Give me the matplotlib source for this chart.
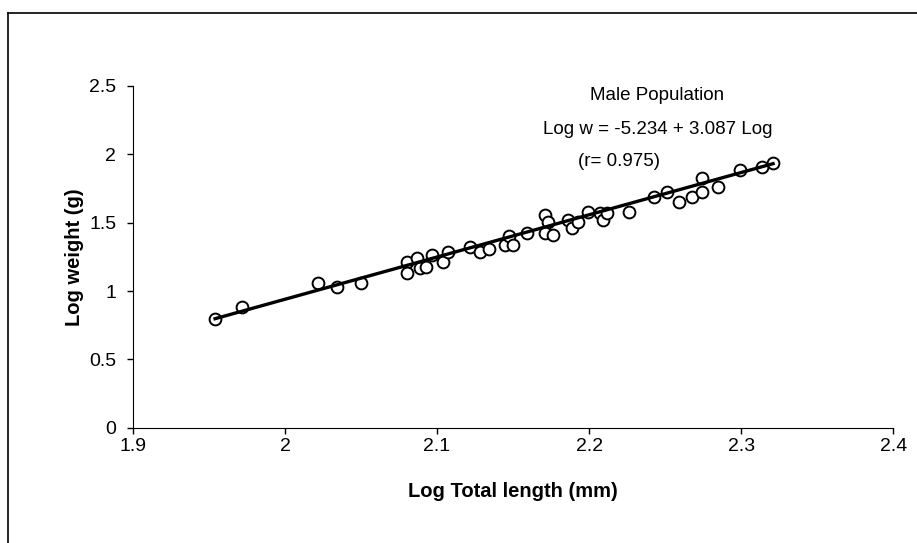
import matplotlib
matplotlib.use("Agg")
import matplotlib.pyplot as plt
from matplotlib.lines import Line2D

plt.rcParams['font.family'] = ['Liberation Sans', 'DejaVu Sans']

# log total length (mm) / log weight (g)
log_length = [1.954, 1.972, 2.022, 2.034, 2.050, 2.080, 2.080, 2.087, 2.089, 2.093,
              2.097, 2.104, 2.107, 2.122, 2.128, 2.134, 2.145, 2.147, 2.150, 2.159,
              2.171, 2.173, 2.171, 2.176, 2.186, 2.189, 2.193, 2.199, 2.207, 2.209,
              2.212, 2.226, 2.243, 2.251, 2.259, 2.268, 2.274, 2.274, 2.285, 2.299,
              2.314, 2.321]
log_weight = [0.797, 0.885, 1.060, 1.031, 1.060, 1.213, 1.133, 1.243, 1.170, 1.177,
              1.265, 1.213, 1.287, 1.323, 1.287, 1.308, 1.338, 1.404, 1.338, 1.425,
              1.557, 1.506, 1.425, 1.411, 1.520, 1.462, 1.506, 1.579, 1.572, 1.520,
              1.572, 1.579, 1.689, 1.725, 1.652, 1.689, 1.827, 1.725, 1.762, 1.886,
              1.908, 1.937]

# regression: log w = a + b log L
a, b = -5.234, 3.087
fit_x = [min(log_length), max(log_length)]
fit_y = [a + b * v for v in fit_x]

fig = plt.figure(figsize=(9.17, 5.43), dpi=100)
ax = fig.add_axes([0.145, 0.212, 0.829, 0.630])

ax.plot(log_length, log_weight, 'o', ms=8.5, mfc='white', mec='black', mew=1.4, zorder=2)
ax.plot(fit_x, fit_y, '-', color='black', lw=2.4, zorder=3)

ax.set_xlim(1.9, 2.4)
ax.set_ylim(0, 2.5)
ax.set_xticks([1.9, 2.0, 2.1, 2.2, 2.3, 2.4])
ax.set_xticklabels(['1.9', '2', '2.1', '2.2', '2.3', '2.4'])
ax.set_yticks([0, 0.5, 1, 1.5, 2, 2.5])
ax.set_yticklabels(['0', '0.5', '1', '1.5', '2', '2.5'])
ax.tick_params(labelsize=14, direction='out', length=4, width=1)
ax.tick_params(axis='x', pad=3)
ax.tick_params(axis='y', pad=8)
ax.spines['top'].set_visible(False)
ax.spines['right'].set_visible(False)

ax.set_xlabel('Log Total length (mm)', fontsize=14.5, fontweight='bold', labelpad=20)
ax.set_ylabel('Log weight (g)', fontsize=14.5, fontweight='bold', labelpad=4)

ax.text(2.245, 2.43, 'Male Population', fontsize=13.5, ha='center', va='center')
ax.text(2.245, 2.18, 'Log w = -5.234 + 3.087 Log', fontsize=13.5, ha='center', va='center')
ax.text(2.220, 1.95, '(r= 0.975)', fontsize=13.5, ha='center', va='center')

# outer chart frame (cropped at right and bottom)
fig.add_artist(Line2D([8 / 917, 1.0], [1 - 13 / 543, 1 - 13 / 543], color='black', lw=1.2))
fig.add_artist(Line2D([8 / 917, 8 / 917], [0.0, 1 - 13 / 543], color='black', lw=1.2))

fig.savefig('out.png', dpi=100)
